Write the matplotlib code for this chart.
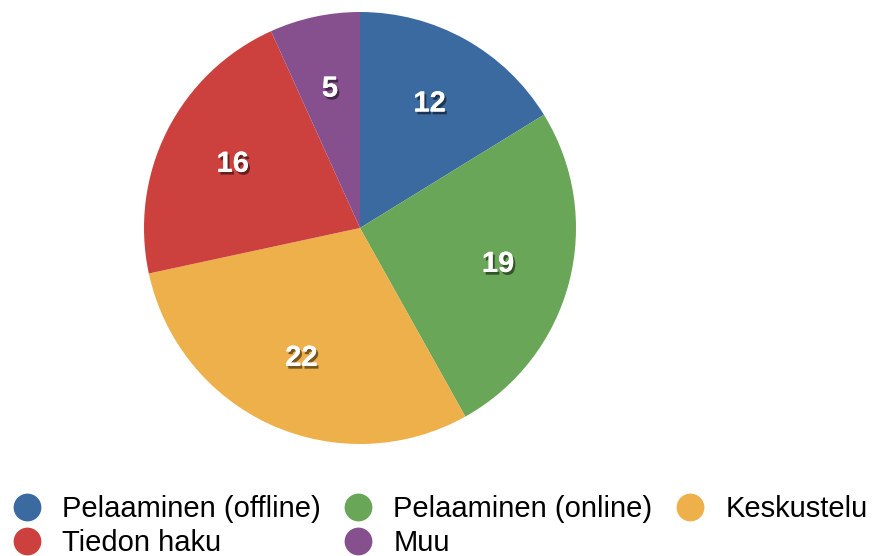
import matplotlib.pyplot as plt
import matplotlib.patheffects as pe
from matplotlib.lines import Line2D

# Data
categories = ["Pelaaminen (offline)", "Pelaaminen (online)", "Keskustelu",
              "Tiedon haku", "Muu"]
values = [12, 19, 22, 16, 5]
colors = ["#3A6AA0", "#6AA657", "#EEB04A", "#CC413E", "#86508F"]

total = sum(values)

fig = plt.figure(figsize=(8.75, 5.56), dpi=100)
ax = fig.add_axes([144 / 875, 112 / 556, 432 / 875, 432 / 556])

wedges, texts, autotexts = ax.pie(
    values, colors=colors, startangle=90, counterclock=False,
    autopct=lambda p: "%d" % round(p * total / 100.0),
    pctdistance=0.66, radius=1.0,
    wedgeprops=dict(linewidth=0),
    textprops=dict(color="white", fontsize=21, fontweight="bold",
                   family="Liberation Sans"),
)
ax.set_xlim(-1, 1)
ax.set_ylim(-1, 1)
ax.set_aspect("equal")

shadow = [pe.withSimplePatchShadow(offset=(1.5, -2), shadow_rgbFace="black",
                                   alpha=0.5), pe.Normal()]
for t in autotexts:
    t.set_path_effects(shadow)

# legend: order handles so that the rows read like the original
order = [0, 3, 1, 4, 2]
handles = [Line2D([], [], linestyle="none", marker="o", markersize=20,
                  markerfacecolor=colors[i], markeredgewidth=0)
           for i in order]
labels = [categories[i] for i in order]
fig.legend(handles, labels, ncol=3, loc="upper left",
           bbox_to_anchor=(12 / 875, 1 - 495 / 556),
           frameon=False, borderpad=0, borderaxespad=0,
           handlelength=1.0, handletextpad=0.7, columnspacing=0.8,
           labelspacing=0.2,
           prop=dict(family="Liberation Sans", size=21))

fig.savefig("out.png", dpi=100)
